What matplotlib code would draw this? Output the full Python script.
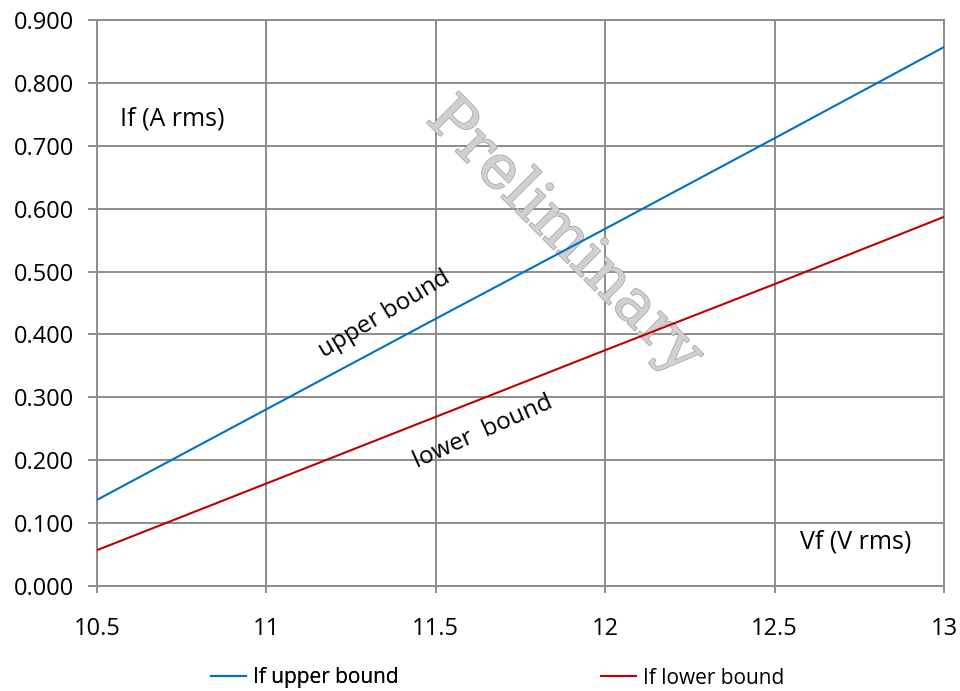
import matplotlib
matplotlib.use('Agg')
import matplotlib.pyplot as plt
import matplotlib.patheffects as pe

# values
vf = [10.5, 11.0, 11.5, 12.0, 12.5, 13.0]
if_upper = [0.137, 0.281, 0.425, 0.568, 0.712, 0.857]
if_lower = [0.057, 0.163, 0.269, 0.375, 0.480, 0.587]
x_ticks = [10.5, 11, 11.5, 12, 12.5, 13]
y_ticks = [0.0, 0.1, 0.2, 0.3, 0.4, 0.5, 0.6, 0.7, 0.8, 0.9]

plt.rcParams['font.family'] = ['Open Sans', 'DejaVu Sans']
grid_col = '#8c8c8c'

fig = plt.figure(figsize=(9.6, 6.91), dpi=100)
ax = fig.add_axes([97 / 960, 1 - 586 / 691, 847 / 960, 566 / 691])

l1, = ax.plot(vf, if_upper, color='#0070c0', lw=1.5, label='If upper bound', zorder=3)
l2, = ax.plot(vf, if_lower, color='#c00000', lw=1.5, label='If lower bound', zorder=3)

ax.set_xlim(10.5, 13)
ax.set_ylim(0, 0.9)
ax.set_xticks(x_ticks)
ax.set_xticklabels(['10.5', '11', '11.5', '12', '12.5', '13'])
ax.set_yticks(y_ticks)
ax.set_yticklabels(['%.3f' % v for v in y_ticks])
ax.grid(True, color=grid_col, lw=1.4)
ax.set_axisbelow(True)
for s in ax.spines.values():
    s.set_color(grid_col)
    s.set_linewidth(1.4)
ax.tick_params(colors=grid_col, labelcolor='black', labelsize=17, width=1.4)
ax.tick_params(axis='y', length=6.5, pad=10)
ax.tick_params(axis='x', length=5, pad=17)

ax.text(10.568, 0.733, 'If (A rms)', fontsize=18, va='baseline')
ax.text(12.575, 0.060, 'Vf (V rms)', fontsize=18, va='baseline')
ax.text(11.35, 0.432, 'upper bound', fontsize=17.5, rotation=31,
        ha='center', va='center')
ax.text(11.64, 0.245, 'lower  bound', fontsize=17.5, rotation=24,
        ha='center', va='center')

ax.text(11.88, 0.555, 'Preliminary', fontsize=44, family='DejaVu Serif',
        rotation=-45, ha='center', va='center', color='#d0d0d0',
        path_effects=[pe.withStroke(linewidth=1.2, foreground='#a0a0a0'),
                      pe.Normal()], zorder=2)

leg_kw = dict(loc='center left', frameon=False, fontsize=15,
              handlelength=1.7, handletextpad=0.35, borderpad=0.4)
leg1 = fig.legend(handles=[l1], bbox_to_anchor=(192 / 960, 13 / 691), **leg_kw)
fig.add_artist(leg1)
fig.legend(handles=[l2], bbox_to_anchor=(582 / 960, 13 / 691), **leg_kw)

fig.savefig('out.png', dpi=100)
